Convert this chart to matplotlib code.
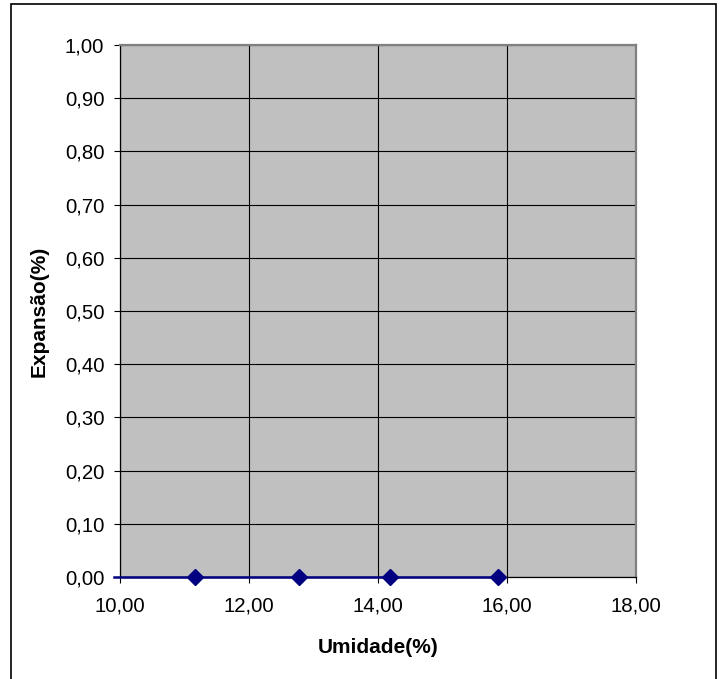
import matplotlib
matplotlib.use("Agg")
import matplotlib.pyplot as plt
from matplotlib.ticker import FuncFormatter, MultipleLocator
from matplotlib.patches import Rectangle

plt.rcParams['font.family'] = ['Liberation Sans', 'DejaVu Sans']

# data
umidade = [11.16, 12.77, 14.18, 15.86]
expansao = [0.0, 0.0, 0.0, 0.0]
x_min, x_max = 10.0, 18.0
y_min, y_max = 0.0, 1.0

W, H = 723, 679
fig = plt.figure(figsize=(W / 100, H / 100), dpi=100)
ax = fig.add_axes([120 / W, 1 - 577 / H, (636 - 120) / W, (577 - 45) / H])
ax.set_facecolor('#C0C0C0')

# outer chart border (bottom edge falls outside the image)
fig.patches.append(Rectangle((11 / W, -0.05), (716 - 11) / W, 1.05 - 4 / H,
                             transform=fig.transFigure, fill=False,
                             edgecolor='black', lw=1.2))

navy = '#000080'
# series line runs in from just left of the plot edge
ax.plot([x_min - 0.1] + umidade, [expansao[0]] + expansao, color=navy, lw=1.8,
        clip_on=False, zorder=3)
ax.plot(umidade, expansao, ls='none', marker='D', ms=8.5, color=navy,
        clip_on=False, zorder=4)

ax.set_xlim(x_min, x_max)
ax.set_ylim(y_min, y_max)
ax.xaxis.set_major_locator(MultipleLocator(2))
ax.yaxis.set_major_locator(MultipleLocator(0.1))
fmt = FuncFormatter(lambda v, p: f'{v:.2f}'.replace('.', ','))
ax.xaxis.set_major_formatter(fmt)
ax.yaxis.set_major_formatter(fmt)
ax.grid(True, color='black', lw=0.8)
ax.set_axisbelow(True)
for side in ['top', 'right']:
    ax.spines[side].set_color('#808080')
    ax.spines[side].set_linewidth(1.6)
for side in ['left', 'bottom']:
    ax.spines[side].set_color('black')
    ax.spines[side].set_linewidth(0.9)
ax.tick_params(direction='out', length=4.3, width=0.8, labelsize=14.7)
ax.tick_params(axis='x', pad=10)
ax.tick_params(axis='y', pad=7)

ax.set_xlabel('Umidade(%)', fontsize=15, fontweight='bold', labelpad=16)
ax.set_ylabel('Expansão(%)', fontsize=15, fontweight='bold', labelpad=12)

fig.savefig('out.png', dpi=100)
